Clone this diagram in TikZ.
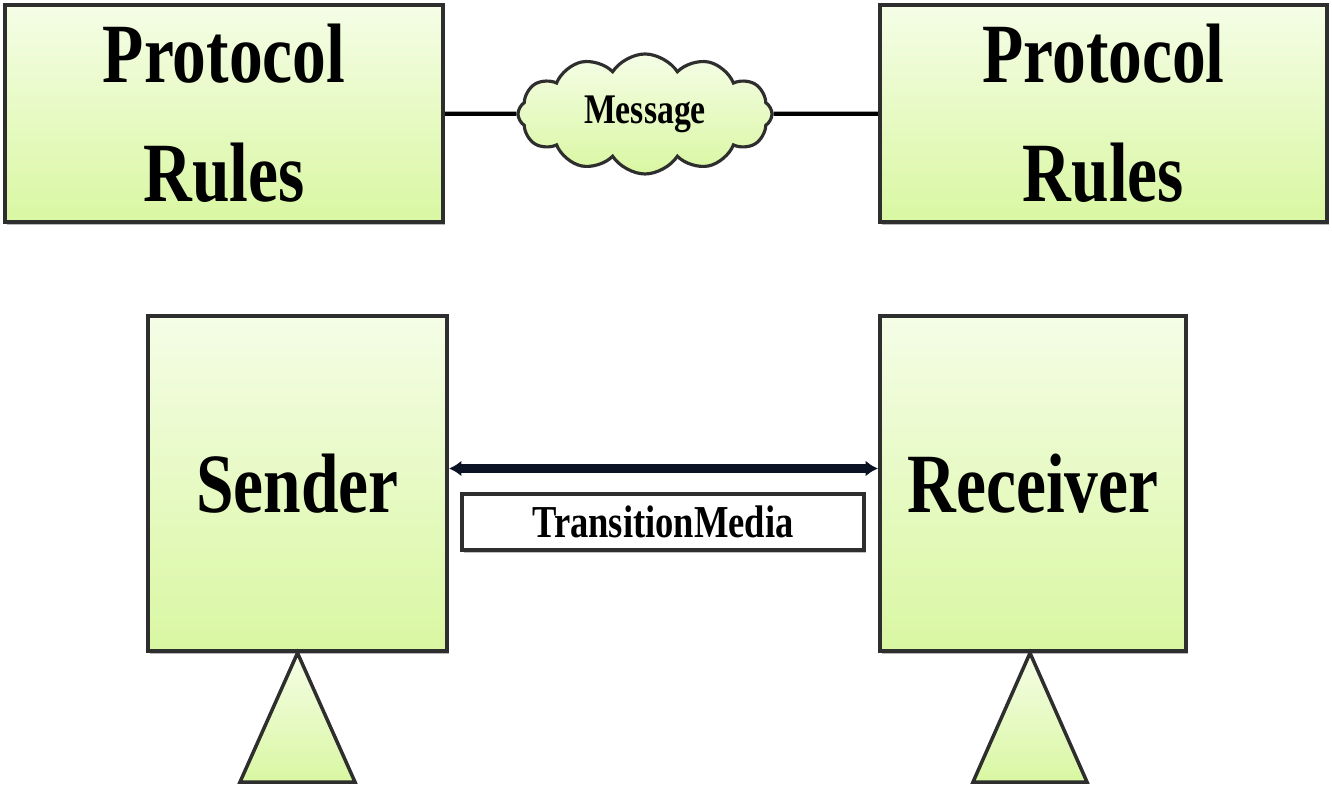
\documentclass[tikz,border=0pt]{standalone}
\usepackage{fontspec}
\setmainfont{Liberation Serif}[FakeStretch=0.8]
\usepackage{xcolor}
\usetikzlibrary{arrows.meta,positioning,shapes.symbols,shadows}

\definecolor{boxtop}{HTML}{F5FDE6}
\definecolor{boxbot}{HTML}{D9F7A2}
\definecolor{edge}{HTML}{2E2E2E}
\definecolor{link}{HTML}{0A1223}

\begin{document}
\begin{tikzpicture}[
  box/.style={draw=edge,rectangle,line width=1.15pt,top color=boxtop,bottom color=boxbot,align=center,
    drop shadow={shadow xshift=0.02cm,shadow yshift=-0.035cm,fill=gray!70,opacity=0.8}},
  rules/.style={box,minimum height=2.17cm,font=\fontsize{24}{34}\selectfont\bfseries},
  party/.style={box,minimum height=3.35cm,font=\fontsize{24}{28}\selectfont\bfseries},
  msg/.style={cloud,cloud puffs=12,cloud puff arc=115,aspect=2.1,draw=edge,line width=0.9pt,
    top color=boxtop,bottom color=boxbot,minimum width=2.54cm,minimum height=1.2cm,inner sep=0pt,
    font=\fontsize{12}{14}\selectfont\bfseries},
  media/.style={draw=edge,rectangle,line width=1pt,fill=white,minimum width=4.02cm,minimum height=0.56cm,
    inner sep=0pt,font=\fontsize{13}{15}\selectfont\bfseries,
    drop shadow={shadow xshift=0.02cm,shadow yshift=-0.03cm,fill=gray!60,opacity=0.8}},
  stand/.style={draw=edge,line width=1pt,line join=miter,top color=boxtop,bottom color=boxbot},
  wire/.style={line width=1.2pt,black},
  arr/.style={{Latex[length=3.5pt,width=4.5pt]}-{Latex[length=3.5pt,width=4.5pt]},line width=2.3pt,link}
]
\useasboundingbox (0,0) rectangle (13.32,7.86);

\node[rules,minimum width=4.38cm] (rulesA) at (2.24,6.725) {Protocol\\Rules};
\node[rules,minimum width=4.47cm] (rulesB) at (11.035,6.725) {Protocol\\Rules};
\node[msg] (message) at (6.45,6.72) {\raisebox{-0.5ex}{Message}};

\node[party,minimum width=2.99cm] (sender) at (2.975,3.025) {Sender};
\node[party,minimum width=3.06cm] (receiver) at (10.33,3.025) {Receiver};
\node[media] (medium) at (6.63,2.64) {TransitionMedia};

\draw[wire] (rulesA) -- (message);
\draw[wire] (message) -- (rulesB);
\draw[arr] ([yshift=0.15cm]sender.east) -- ([yshift=0.15cm]receiver.east -| receiver.west);

% stands
\draw[stand] (sender.south) -- ++(0.575,-1.29) -- ++(-1.15,0) -- cycle;
\draw[stand] ([xshift=-0.03cm]receiver.south) -- ++(0.57,-1.29) -- ++(-1.14,0) -- cycle;

\end{tikzpicture}
\end{document}
